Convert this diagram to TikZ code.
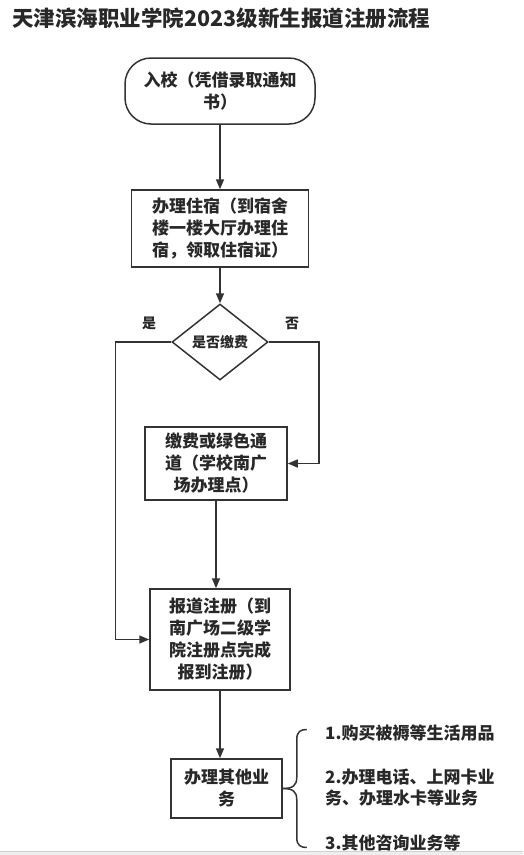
\documentclass[tikz,border=0pt]{standalone}
\usepackage{fontspec}
\setmainfont{Noto Sans CJK SC}
\usetikzlibrary{shapes.geometric, arrows.meta}
\definecolor{linegray}{RGB}{51,51,51}
\definecolor{textgray}{RGB}{40,40,40}
\definecolor{stripgray}{RGB}{238,238,238}
\tikzset{
  mbox/.style    = {draw=linegray, line width=1.5pt, align=center, text=textgray,
                    font=\fontsize{17}{22}\selectfont\bfseries, inner sep=2pt},
  mstart/.style  = {mbox, rounded corners=26pt},
  % decision: smaller text inside the diamond
  mdec/.style    = {mbox, diamond, inner sep=0pt, font=\fontsize{14}{17}\selectfont\bfseries},
  mnote/.style   = {align=left, text=textgray, anchor=west, inner sep=0pt,
                    font=\fontsize{17}{21}\selectfont\bfseries},
  mlabel/.style  = {text=textgray, inner sep=0pt, font=\fontsize{14}{17}\selectfont\bfseries},
  link/.style    = {draw=linegray, line width=1.5pt},
  flow/.style    = {link, -{Triangle[length=10pt, width=8pt]}},
}

\begin{document}
\begin{tikzpicture}[x=1pt, y=-1pt]
    \useasboundingbox (0,0) rectangle (523,855);
    \fill[stripgray] (0,851) rectangle (523,855);
    \draw[black!18, line width=0.8pt] (0,851) -- (523,851);

    \node[anchor=west, inner sep=0pt, text=textgray, font=\fontsize{21.5}{26}\selectfont\bfseries]
      (title) at (12,18) {天津滨海职业学院2023级新生报道注册流程};

    \node[mstart, minimum width=190pt, minimum height=66pt] (s) at (220,91)
      {入校（凭借录取通知\\书）};
    \node[mbox, minimum width=177pt, minimum height=77pt] (zs) at (220,228.5)
      {办理住宿（到宿舍\\楼一楼大厅办理住\\宿，领取住宿证）};
    \node[mdec, minimum width=96pt, minimum height=76pt] (d) at (220,342) {是否缴费};
    \node[mbox, minimum width=142pt, minimum height=73pt] (jf) at (216,463.5)
      {缴费或绿色通\\道（学校南广\\场办理点）};
    \node[mbox, minimum width=140pt, minimum height=101pt] (zc) at (220,639.5)
      {报道注册（到\\南广场二级学\\院注册点完成\\报到注册）};
    \node[mbox, minimum width=111pt, minimum height=59pt] (qt) at (226.5,788.5)
      {办理其他业\\务};

    \node[mlabel] (yes) at (149,323) {是};
    \node[mlabel] (no)  at (292,323) {否};

    \draw[flow] (s) -- (zs);
    \draw[flow] (zs) -- (d);
    \draw[flow] (d.west) -- ++(-56,0) |- (zc.west);
    \draw[flow] (d.east) -- ++(50,0) |- (jf.east);
    \draw[flow] (jf.south) -- (jf.south |- zc.north);
    \draw[flow] (zc.south) -- (zc.south |- qt.north);

    % brace towards the notes
    \draw[link] (qt.east) .. controls +(10,0) and +(0,8) .. ++(14,-11)
      -- ++(0,-38) .. controls +(0,-8) and +(-6,0) .. ++(10,-10);
    \draw[link] (qt.east) .. controls +(10,0) and +(0,-8) .. ++(14,11)
      -- ++(0,38) .. controls +(0,8) and +(-6,0) .. ++(10,10);

    \node[mnote] (n1) at (325,733) {1.购买被褥等生活用品};
    \node[mnote] (n2) at (325,788) {2.办理电话、上网卡业\\务、办理水卡等业务};
    \node[mnote] (n3) at (325,843) {3.其他咨询业务等};
\end{tikzpicture}
\end{document}
